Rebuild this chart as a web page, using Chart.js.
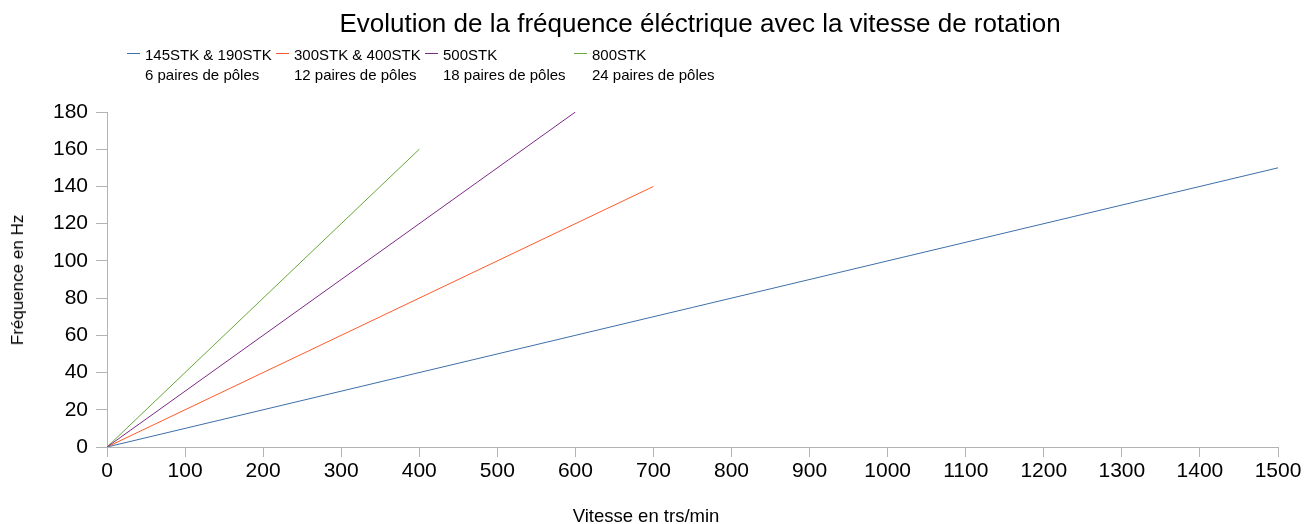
<!DOCTYPE html>
<html lang="fr">
<head>
  <meta charset="UTF-8">
  <title>Evolution de la fréquence éléctrique</title>
  <script src="https://cdn.jsdelivr.net/npm/chart.js"></script>
  <style>
    body { margin: 0; background: #fff; font-family: "Liberation Sans", Arial, sans-serif; color: #000; }
    #wrap { position: relative; width: 1313px; height: 524px; }
    #title { position: absolute; left: 0; width: 1400px; top: 8px; text-align: center; font-size: 26px; }
    #legend { position: absolute; left: 127px; top: 45px; font-size: 15px; }
    .item { position: absolute; top: 0; width: 150px; line-height: 20px; }
    .item i { position: absolute; left: 0; top: 8px; width: 13px; height: 1px; }
    .item span { display: block; padding-left: 18px; white-space: nowrap; }
    #ytitle { position: absolute; left: 18px; top: 280px; font-size: 17px; transform: translate(-50%, -50%) rotate(-90deg); white-space: nowrap; }
    #xtitle { position: absolute; left: 646px; top: 516px; font-size: 18.5px; transform: translate(-50%, -50%); white-space: nowrap; }
    canvas { position: absolute; left: 0; top: 0; }
  </style>
</head>
<body>
<div id="wrap">
  <canvas id="freqChart" width="1313" height="524"></canvas>
  <div id="title">Evolution de la fréquence éléctrique avec la vitesse de rotation</div>
  <div id="legend"></div>
  <div id="ytitle">Fréquence en Hz</div>
  <div id="xtitle">Vitesse en trs/min</div>
</div>
<script>
  // series: vitesse (trs/min) -> fréquence (Hz)
  const seriesNames = ['145STK & 190STK', '300STK & 400STK', '500STK', '800STK'];
  const seriesSub = ['6 paires de pôles', '12 paires de pôles', '18 paires de pôles', '24 paires de pôles'];
  const seriesColors = ['#3f6fa8', '#ff5a2a', '#7d2a85', '#66a83a'];
  const speed6 = [0, 1500];
  const freq6 = [0, 150];
  const speed12 = [0, 700];
  const freq12 = [0, 140];
  const speed18 = [0, 600];
  const freq18 = [0, 180];
  const speed24 = [0, 400];
  const freq24 = [0, 160];

  const speeds = [speed6, speed12, speed18, speed24];
  const freqs = [freq6, freq12, freq18, freq24];

  const legend = document.getElementById('legend');
  seriesNames.forEach(function (name, i) {
    const d = document.createElement('div');
    d.className = 'item';
    d.style.left = (i * 149) + 'px';
    d.innerHTML = '<i style="background:' + seriesColors[i] + '"></i><span>' + name + '</span><span>' + seriesSub[i] + '</span>';
    legend.appendChild(d);
  });

  const axisGrey = '#b3b3b3';
  const ctx = document.getElementById('freqChart').getContext('2d');
  new Chart(ctx, {
    type: 'line',
    data: {
      datasets: seriesNames.map(function (name, i) {
        return {
          label: name,
          data: speeds[i].map(function (v, j) { return { x: v, y: freqs[i][j] }; }),
          borderColor: seriesColors[i],
          borderWidth: 1,
          pointRadius: 0,
          fill: false
        };
      })
    },
    options: {
      responsive: false,
      animation: false,
      layout: { padding: { left: 0, top: 112, right: 35, bottom: 0 } },
      plugins: { legend: { display: false }, tooltip: { enabled: false } },
      scales: {
        x: {
          type: 'linear',
          min: 0,
          max: 1500,
          afterFit: function (s) { s.height = 77; },
          border: { color: axisGrey, width: 1 },
          grid: { drawOnChartArea: false, color: axisGrey, tickLength: 10 },
          ticks: {
            stepSize: 100,
            padding: 2,
            color: '#000',
            font: { family: 'Liberation Sans', size: 21 },
            callback: function (v) { return String(v); }
          }
        },
        y: {
          min: 0,
          max: 180,
          afterFit: function (s) { s.width = 107; },
          border: { color: axisGrey, width: 1 },
          grid: { drawOnChartArea: false, color: axisGrey, tickLength: 11 },
          ticks: {
            stepSize: 10,
            padding: 8,
            color: '#000',
            font: { family: 'Liberation Sans', size: 21 },
            callback: function (v) { return v % 20 === 0 ? String(v) : ''; }
          }
        }
      }
    }
  });
</script>
</body>
</html>
